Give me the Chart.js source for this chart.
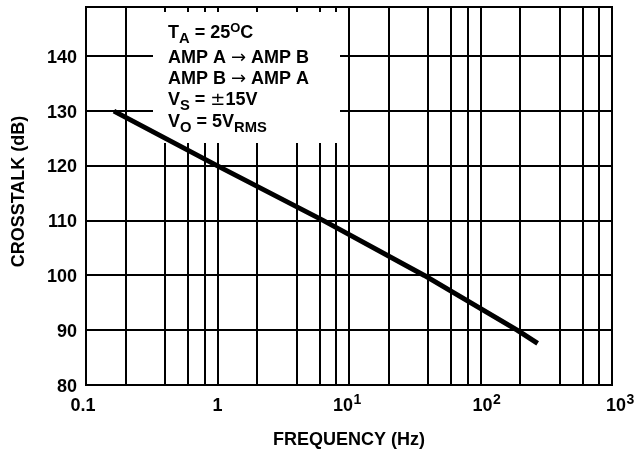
<!DOCTYPE html>
<html>
<head>
<meta charset="utf-8">
<script src="https://cdn.jsdelivr.net/npm/chart.js@4/dist/chart.umd.min.js"></script>
<style>
html,body{margin:0;padding:0;background:#fff;}
#wrap{width:635px;height:450px;}
</style>
</head>
<body>
<div id="wrap"><canvas id="c" width="635" height="450"></canvas></div>
<script>
// ---- data ----
const freqHz = [0.163, 1, 6.4, 37.4, 190, 272];
const crosstalkDb = [130, 120, 110, 100, 90, 87.6];
const xGridValues = [0.1,0.2,0.4,0.6,0.8,1,2,4,6,8,10,20,40,60,80,100,200,400,600,800,1000];
const xLabelValues = [0.1, 1, 10, 100, 1000];
const xLabelBase = ['0.1', '1', '10', '10', '10'];
const xLabelExp = ['', '', '1', '2', '3'];
const yTickValues = [80, 90, 100, 110, 120, 130, 140];
const yMin = 80, yMax = 149;
const xTitle = 'FREQUENCY (Hz)';
const yTitle = 'CROSSTALK (dB)';
const noteLines = [
  [{t:'T'},{t:'A',sub:true},{t:' = 25'},{t:'O',sup:true},{t:'C'}],
  [{t:'AMP A '},{t:'\u2192',thin:true},{t:' AMP B'}],
  [{t:'AMP B '},{t:'\u2192',thin:true},{t:' AMP A'}],
  [{t:'V'},{t:'S',sub:true},{t:' = '},{t:'\u00B1',thin:true},{t:'15V'}],
  [{t:'V'},{t:'O',sub:true},{t:' = 5V'},{t:'RMS',sub:true}]
];

const FONT = '"Liberation Sans", Arial, Helvetica, sans-serif';
const SYMFONT = '"DejaVu Sans", sans-serif';

function drawRich(ctx, segs, x, y, size) {
  let cx = x;
  segs.forEach(s => {
    let fs = size, dy = 0, w = 'bold', fam = FONT;
    if (s.sub) { fs = size * 0.82; dy = 5; }
    if (s.sup) { fs = size * 0.72; dy = -6; }
    if (s.thin) { w = 'normal'; fam = SYMFONT; }
    ctx.font = w + ' ' + fs + 'px ' + fam;
    ctx.fillText(s.t, cx, y + dy);
    cx += ctx.measureText(s.t).width;
  });
}

const decor = {
  id: 'decor',
  beforeDatasetsDraw(chart) {
    const ctx = chart.ctx;
    const a = chart.chartArea;
    ctx.save();
    // white note box covering the grid
    ctx.fillStyle = '#fff';
    ctx.fillRect(153, a.top + 5, 187, 143 - (a.top + 5));
    ctx.fillStyle = '#000';
    ctx.textAlign = 'left';
    ctx.textBaseline = 'alphabetic';
    const baselines = [38, 63, 84, 105, 127];
    noteLines.forEach((ln, i) => drawRich(ctx, ln, 168, baselines[i], 18));
    ctx.restore();
  },
  afterDraw(chart) {
    const ctx = chart.ctx;
    const a = chart.chartArea;
    const xs = chart.scales.x, ys = chart.scales.y;
    ctx.save();
    ctx.strokeStyle = '#000';
    ctx.lineWidth = 2;
    ctx.strokeRect(a.left, a.top, a.right - a.left, a.bottom - a.top);
    ctx.fillStyle = '#000';
    // y tick labels
    ctx.font = 'bold 18px ' + FONT;
    ctx.textAlign = 'right';
    ctx.textBaseline = 'alphabetic';
    yTickValues.forEach(v => {
      ctx.fillText(String(v), 77, ys.getPixelForValue(v) + 6.5);
    });
    // x tick labels
    const shifts = [-3, 0, -2, 6, 8];
    xLabelValues.forEach((v, i) => {
      const px = xs.getPixelForValue(v) + shifts[i];
      ctx.font = 'bold 18px ' + FONT;
      const wb = ctx.measureText(xLabelBase[i]).width;
      let we = 0;
      if (xLabelExp[i]) { ctx.font = 'bold 14px ' + FONT; we = ctx.measureText(xLabelExp[i]).width; }
      const x0 = px - (wb + we) / 2;
      ctx.textAlign = 'left';
      ctx.font = 'bold 18px ' + FONT;
      ctx.fillText(xLabelBase[i], x0, 411);
      if (xLabelExp[i]) {
        ctx.font = 'bold 14px ' + FONT;
        ctx.fillText(xLabelExp[i], x0 + wb + 0.5, 404);
      }
    });
    // axis titles
    ctx.font = 'bold 18px ' + FONT;
    ctx.textAlign = 'center';
    ctx.fillText(xTitle, (a.left + a.right) / 2, 445);
    ctx.translate(24, 191.5);
    ctx.rotate(-Math.PI / 2);
    ctx.fillText(yTitle, 0, 0);
    ctx.restore();
  }
};

new Chart(document.getElementById('c'), {
  type: 'line',
  data: {
    datasets: [{
      data: freqHz.map((f, i) => ({x: f, y: crosstalkDb[i]})),
      borderColor: '#000',
      borderWidth: 5,
      borderCapStyle: 'butt',
      borderJoinStyle: 'round',
      pointRadius: 0,
      tension: 0,
      fill: false
    }]
  },
  options: {
    responsive: false,
    animation: false,
    devicePixelRatio: 1,
    layout: { padding: { left: 86, right: 23, top: 7, bottom: 65 } },
    plugins: { legend: { display: false }, tooltip: { enabled: false } },
    scales: {
      x: {
        type: 'logarithmic',
        min: 0.1, max: 1000,
        afterBuildTicks: s => { s.ticks = xGridValues.map(v => ({value: v})); },
        ticks: { display: false },
        grid: { color: '#000', lineWidth: 2, drawTicks: false },
        border: { display: false }
      },
      y: {
        type: 'linear',
        min: yMin, max: yMax,
        afterBuildTicks: s => { s.ticks = yTickValues.map(v => ({value: v})); },
        ticks: { display: false },
        grid: { color: '#000', lineWidth: 2, drawTicks: false },
        border: { display: false }
      }
    }
  },
  plugins: [decor]
});
</script>
</body>
</html>
